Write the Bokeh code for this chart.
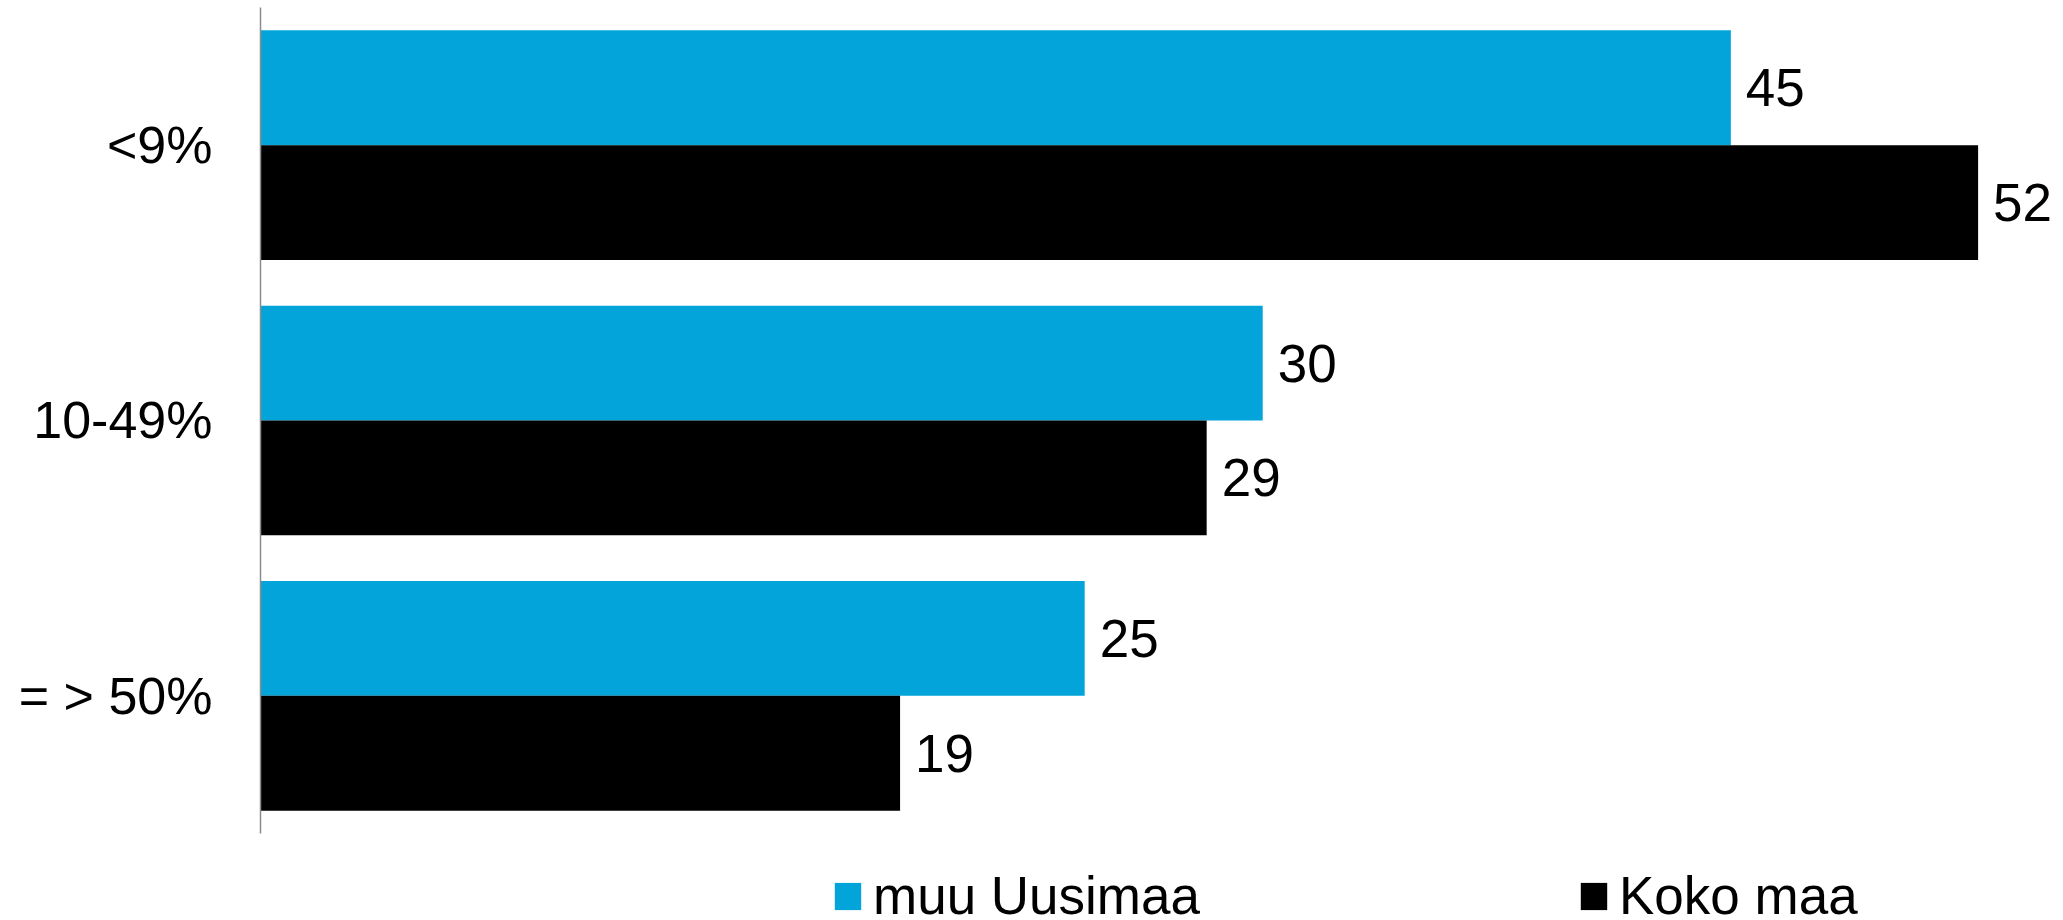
from bokeh.plotting import figure
from bokeh.models import Range1d, ColumnDataSource, Legend, LegendItem, FixedTicker
from bokeh.core.properties import value
from bokeh.embed import file_html
from bokeh.resources import INLINE

# ---- data ----
categories = ["<9%", "10-49%", "= > 50%"]
series_names = ["muu Uusimaa", "Koko maa"]
muu_uusimaa = [44.6, 30.4, 25.0]
koko_maa = [52.1, 28.7, 19.4]
colors = ["#03A4DA", "#000000"]

FONT = "Liberation Sans"
FS = "53px"

n = len(categories)
pos = [n - i - 0.5 for i in range(n)]  # top-to-bottom category slots
bh = 0.417
off = 0.2085

src = ColumnDataSource(data=dict(
    y_muu=[y + off for y in pos],
    y_koko=[y - off for y in pos],
    muu=muu_uusimaa,
    koko=koko_maa,
    muu_lbl=[f"{v:.0f}" for v in muu_uusimaa],
    koko_lbl=[f"{v:.0f}" for v in koko_maa],
))

p = figure(
    width=2063, height=920,
    y_range=Range1d(-0.316, n),
    x_range=Range1d(0, 54.69),
    x_axis_location=None,
    output_backend="svg", toolbar_location=None,
    min_border_left=260, min_border_right=0, min_border_top=7, min_border_bottom=0,
)
p.outline_line_color = None
p.xgrid.visible = False
p.ygrid.visible = False

r1 = p.hbar(y="y_muu", left=0, right="muu", height=bh,
            source=src, fill_color=colors[0], line_color=None)
r2 = p.hbar(y="y_koko", left=0, right="koko", height=bh,
            source=src, fill_color=colors[1], line_color=None)

p.text(x="muu", y="y_muu", text="muu_lbl", source=src,
       x_offset=15, text_align="left", text_baseline="middle",
       text_font=value(FONT), text_font_size=FS, text_color="black")
p.text(x="koko", y="y_koko", text="koko_lbl", source=src,
       x_offset=15, text_align="left", text_baseline="middle",
       text_font=value(FONT), text_font_size=FS, text_color="black")

ax = p.yaxis[0]
ax.ticker = FixedTicker(ticks=pos)
ax.major_label_overrides = {y: c for y, c in zip(pos, categories)}
ax.bounds = (0, n)
ax.major_tick_in = 0
ax.major_tick_out = 0
ax.minor_tick_in = 0
ax.minor_tick_out = 0
ax.major_label_standoff = 48
ax.major_label_text_font = FONT
ax.major_label_text_font_size = "52px"
ax.major_label_text_color = "black"
ax.axis_line_color = "#8c8c8c"
ax.axis_line_width = 1.5

def make_legend(label, rend, vx):
    lg = Legend(items=[LegendItem(label=label, renderers=[rend])],
                location=(vx, -6), orientation="horizontal",
                glyph_width=33, glyph_height=34, label_standoff=9,
                label_text_font=FONT, label_text_font_size=FS, label_text_color="black",
                padding=0, margin=0, border_line_color=None, background_fill_alpha=0)
    p.add_layout(lg, "center")

make_legend(series_names[0], r1, 571)
make_legend(series_names[1], r2, 1317)

open("out.html", "w").write(file_html(p, INLINE))
